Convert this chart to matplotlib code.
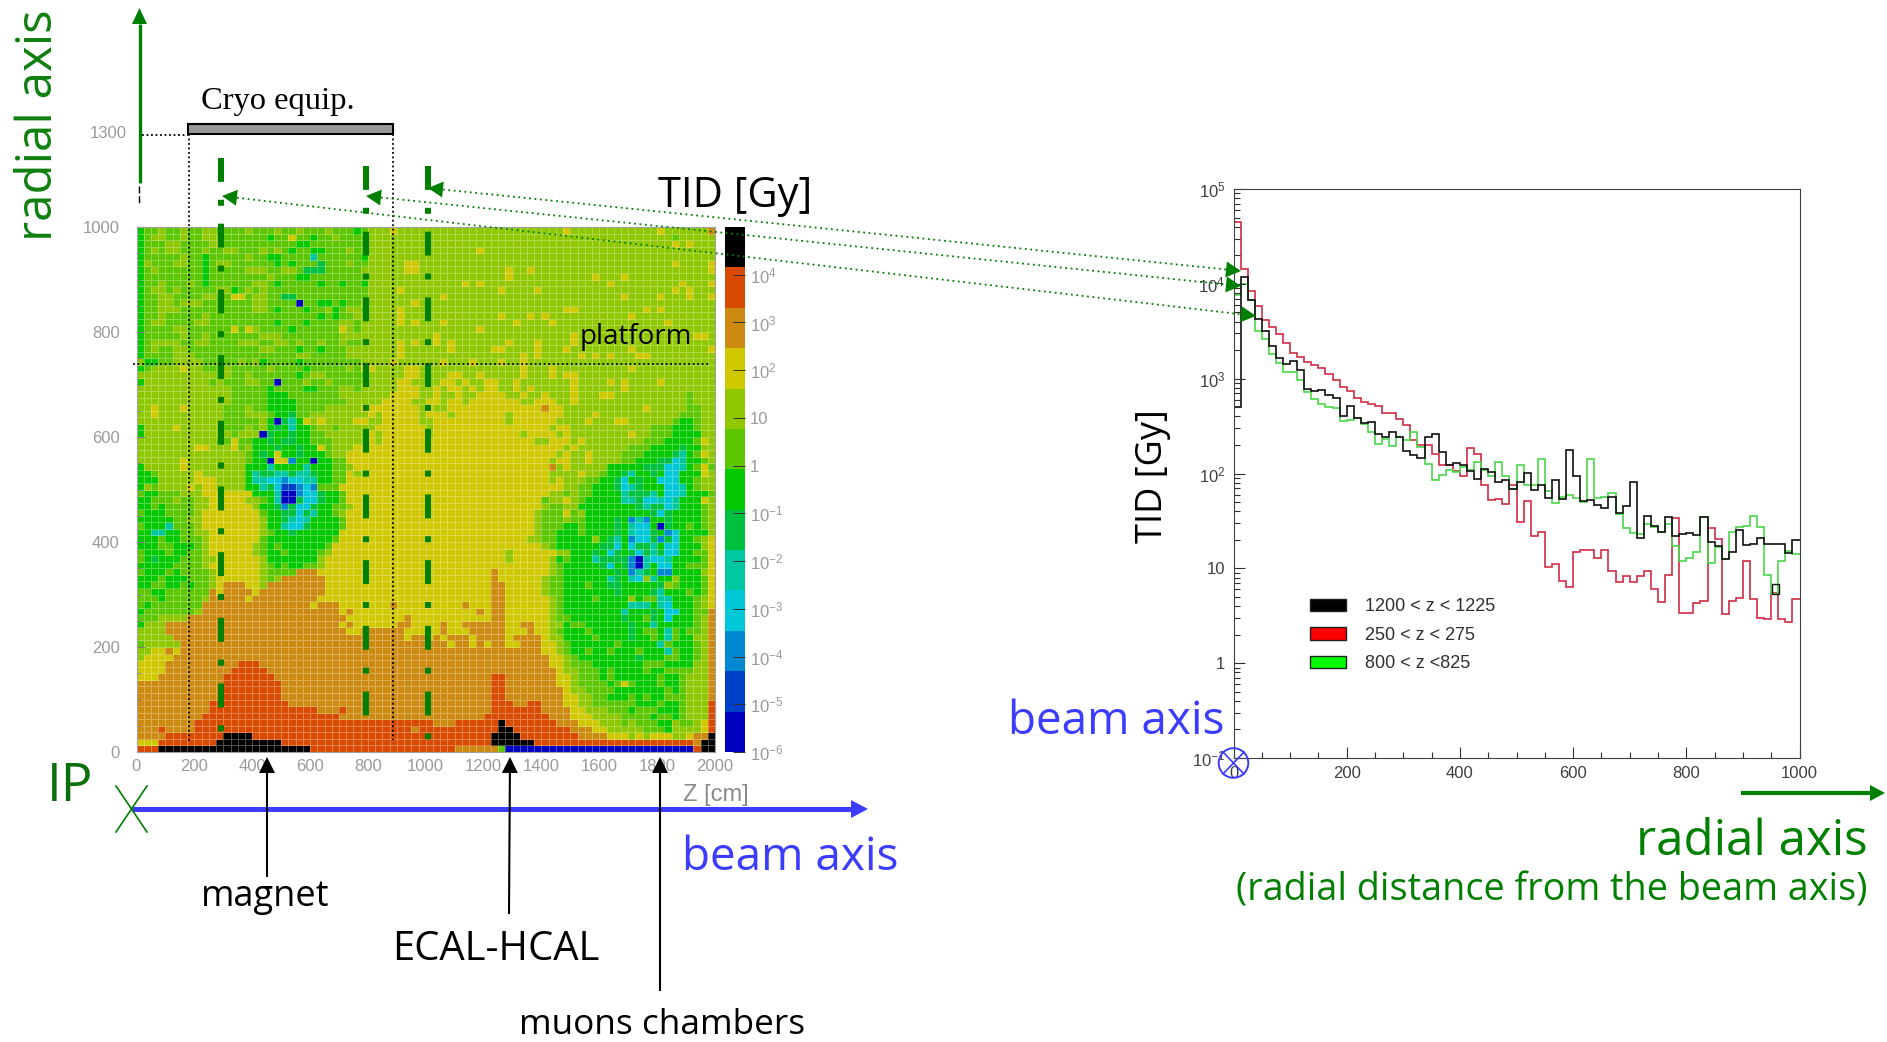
import numpy as np
import matplotlib
matplotlib.use("Agg")
import matplotlib.pyplot as plt
from matplotlib.colors import ListedColormap, BoundaryNorm
from matplotlib.patches import Patch, Polygon, Rectangle, Circle
from matplotlib.ticker import FixedLocator, FixedFormatter, NullFormatter

W, H = 1887, 1042
COMIC = "Open Sans"
GREEN = "#008000"
BLUE = "#3c3cff"
GREY = "#9a9a9a"

# TID colour levels, lowest to highest
level_codes = "DUACSTBGLYORK"
level_colors = ["#0000c0", "#0040c8", "#0088d0", "#00c8d8", "#00c8a0", "#00c040", "#04c800",
                "#5cc600", "#8fc800", "#d0c800", "#cc8a10", "#d84a00", "#000000"]
cbar_ticks = [1e-6, 1e-5, 1e-4, 1e-3, 1e-2, 1e-1, 1, 10, 1e2, 1e3, 1e4]
cbar_labels = [r"$\mathregular{10^{-6}}$", r"$\mathregular{10^{-5}}$", r"$\mathregular{10^{-4}}$",
               r"$\mathregular{10^{-3}}$", r"$\mathregular{10^{-2}}$", r"$\mathregular{10^{-1}}$",
               "1", "10", r"$\mathregular{10^{2}}$", r"$\mathregular{10^{3}}$", r"$\mathregular{10^{4}}$"]

# map cells, top row first, z = 0..1000 cm then z = 1000..2000 cm
map_left = [
    "BGGLGGLGGL LGGGGLGGGL GGLGGGLGGG BGLLLYLLLL",
    "BGLLGGLGGL LLGGGGGGBG GYGGBGGLGG GGLLLLLLLL",
    "BGGGLLGGGG LLGGGGGGGG GGBBGGGGGG GGLLLLLLLL",
    "BGLGLLGGGL GGLLGGGLGL GBGGBBGGGL GGLLLLLLLL",
    "BGGGGGLGGB GGGGGLGGBB GGGGSGGGGG GBLLLLLLLL",
    "BLGGGLLGGB GLLGGGGGGB GBGGGTGGGL GGLLLLLYYL",
    "BGLGGGGGGB GGGGGLLLGG LLGTTTGGGG GLLLLLLYYL",
    "BGGGGGGGGB GGGGGGGGLG GGBBGGGGGG GGLLLLLLLL",
    "BGGLGGGLGB GGGGGGLLGB GGGGGBGGBG GBLLLLLLLL",
    "BGLLGLGGGG GLLBGLGLGG GGGGGGGGGG GGLLLLYLLL",
    "BGGLLGGGGL LGGYYGLLGG TTGGGGGGGG GGLLLLLLLL",
    "BGGLLGLLLG GGGGGGLLGG GGDGGBBGBG GLLLLLLLYL",
    "BGGLLLGGGG GGGGGGLLGB GGGBGGLBGL LGLLLLYLLL",
    "BGGLGGGGGL GGGGGGGGGG GGGGGBGBGG LLLLLLYLLL",
    "BGLLGGGGLL GGGGGGGGGB GGGBGGGGLL GLLLLLYLYL",
    "BGGGGLLGGG GGGYGYLGGG GBGGGGGGYL GLLLLLLLLL",
    "BGGGGGLGGL GGGGGGGLLL GGGGGGGGLL LLLLLLLLLL",
    "BGLLLLGGLL GGGGLLLGGL LGLGGLGGLG GLLLLLYLYL",
    "BGLGGLLGGG GGGGGGGLLG GGBGGBGGGL LLLLLLYLLL",
    "BGGGGLLLGG GGGGGGGGGG GGLLGGGGGL LLLLLLYLLL",
    "LBBGGLLLLG GGGGLGLBGG GGBGGGGGGG GLLLLYLLLL",
    "BGLLLLYLLG GGLGGGGGLG GGGBGGGGGL GYYLLLLYYL",
    "LLLLLLLLLL LGLGGLGGGG GGBGLLGGGG GGLLLLLYYL",
    "BLLLLLLLLL GLGGGLLGGD GGGLGGLGGG GLLLLLYYLL",
    "LLLLLLLLLL LLLGGGGGBG GGGBBGGGLL GLLLLLYYYL",
    "LLLLLLLLLL LLLGGGGGBB BGGGGGGGLL LLLLLYYYYL",
    "LLLLLLLLLL LLLGGGGGBB BBGGGGGGGL LLLLYYYYLL",
    "LLYLLLYLLL LLGGGLGGBB BBGGGGLLLL LYYYYYYYYL",
    "LLYLLLLLLL LLGGGLLLGB BTGGLLLLLL LLYLYYYYYL",
    "LLLLLLLLLL LLGGGGGLBD TSBYLYLLLL YYLLYYYYYL",
    "BLLLLYLLLL LLGGGLGLBT BSBBGLLGLL LLLYYYYYYY",
    "BLLLLLLLLL LLLGLLLDTB BTBBGGLLLL LLYLYYYYYY",
    "LLLLLLLLLL LGGYGGBBTB TTBBGGGLLL LLYLYYYYYY",
    "LLLLLLLLYY LLLYGLBBBT BBTBBYGLLL YYYYYYYYYY",
    "LLLLLLLLLL LLLLLGBTBY BBTBBBGLLY YYYYYYYYYY",
    "LLLLLLYLLL LLLLLGBBDY YABBDBBGGY YYYYYYYYYY",
    "BLLLLLYLLL LLLLLBBBSB BBBSBBBGGL YYYYYYYYYY",
    "BBGLLLLLYL LLLLLBSTTS STSSTBBGGY LLYYYYYYYY",
    "BBBLLLLLYY YLLLLBSSCC ACCSSBBGGY YYYYYYYYYY",
    "BLGLLLLYLY YLLLLBBSTC UUACAGGGYY YYYYYYYYYY",
    "GBBGGGLLLY YYYYYYBBBS DDACCTBBGY YYYYYYYYYY",
    "BBGGGLGGLL YYYYYLLGBS DDTCCTBBGY YYYYYYYYYY",
    "BBGBGGGGLL YYYYYYLBBT ATCCTBBGGL YYYYYYYYYY",
    "GBBBGGGGLY YYYYYYYGBB TTCTSBBGLY YYYYYYYYYY",
    "BBBBBGGLLY YYYYYYYLBB TSCSBBBBGY YYYYYYYYYY",
    "GBBBSGGGLY YYYYYYYLBB SCCTBBBBGY YYYYYYYYYY",
    "BBSSBBGGLL YYYYYYYLGB BTBBBBBBYY YYYYYYYYYY",
    "BBBGBBGGGL YYYYYYYGBB BBBBBBBGYY YYYYYYYYYY",
    "BBBGGBBBGL YYYYYYLGBG BBBBBBGYYY YYYYYYYYYY",
    "GBBBGBBGGL YYYYYYLGBB GBBBBGLYYY YYYYYYYYYY",
    "GBTBBBGGGL LYYYYYYLBB BBBBBLYYYY YYYYYYYYYY",
    "BBBBBGGGGL YYYYYYYLGB GBBGGLYYYY YYYYYYYYYY",
    "GBBBGBGGGG LYYYYYYLGG GGOOOYYYYY YYYYYYYYYY",
    "BBBGBBBGGG LYYYYYYLGL OOOOOOYYYY YYYYYYYYYY",
    "BBGGBBGBGG LYOOOYYLOO OOOOOOYYYY YYYYYYYYYY",
    "GGBBGGGGGG OYOOOOYOOO OOOOOOYYYY YYYYYYYYYY",
    "GGGBGGGGGL OOOOOYOOOO OOOOOYYYYY YYYYYYYYYY",
    "GBGGGGGGGO OOOOOOOOOO OOOOYOOOYY YYYYYOYYYY",
    "BGGGGGGGLO OOOOOOOOOO OOOOOOOOYO YYYYYYYYYY",
    "GGGLLLLOOO OOOOOOOOOO OOOOOOOOOY YYYYYYYOYY",
    "BLLLOOOOOO OOOOOOOOOO OOOOOOOOYO YYYYYYOOYY",
    "LLLLOOOOOO OOOOOOOOOO OOOOOOOOOY YOOOOOOYYY",
    "LLLLLOOOOO OOOOOOOOOO OOOOOOOOOO OOOOOOOYOO",
    "GLLLLLOOOO",
    "LLYYOYOOOO",
    "LYYYYOOOOO",
    "YYYYOOOOOO OOOORRROOO",
    "YYYYOOOOOO OOORRRRROO",
    "YYYOOOOOOO OORRRRRRRO",
    "OOOOOOOOOO OORRRRRRRR O",
    "OOOOOOOOOO OORRRRRRRR O",
    "OOOOOOOOOO OORRRRRRRR O",
    "OOOOOOOOOO RRRRRRRRRR RO",
    "OOOOOOOOOO RRRRRRRRRR RRRRROOORO O",
    "OOOOOOOOOR RRRRRRRRRR RRRRRRRROO O",
    "OOOOOOOORR R",
    "OOOROOOORR RRRRRRRRRR RRRRRRRRRR RRRRRRRROR",
    "OOOORRRRRR RRKKKKRRRR R",
    "YYYRRRRRRR RKKKKKKKKK R",
    "RRRKKKKKKK KKKKKKKKKK KKKKRRRRRR R",
]
map_right = [
    "LLLLLLLLLL LLLLLLLLLY LLLLLLLLLL LLYLLLLLLO",
    "LLLLLLLLLL LLLLLLLLLL LLLLLLLLLL LLLLGLLLLL",
    "LLLLLLLLLL LLLLLLLLLL LLLLLLLLLL LLLLYLYLLL",
    "LLLLLLLYLL LLLLLLLLLL LLLLLLLLLL LLLLLLLLLL",
    "LLLLLLLLLL LLLLLLLLLL LLLLLLLLLL LLLLLLLLLL",
    "LLLLLLLLLL LLLLLLLLLL LLLLLLLLLL LLLLYLLLLY",
    "LLLLLLLLLL LYLLYLLLLL LLLLLLLLLL LLLLLLLLLY",
    "LLLLLLLLLL LYLLLLLLLL LLLYLLLYLL LLLLLLLLLL",
    "LLLLLYLYLL LLLLLLLLLL LLLLLYLLLL LLLLLYLLLY",
    "LLLLLLLLLL YLLLLYLLLL LLLLLLLLLL LLLLYLYLLL",
    "LLYLLLLLLL LLLLLLLLLL LLLLLLLYLL LLYLLLYLLY",
    "LLLLLLLLLL LLLLLLLLLL LLLLLLLLLL LLLLLLLLLL",
    "LLLLLLLLLL LLLLLLLLLY YLLLLLLLLL YLYLLLLLLL",
    "LLLLLLLLLL YLLLYLYLLL LLLLLLLLYL LLLLLLLLLL",
    "LLYLLLLLLL LLYLLLLYLL LLLLLLLLLL LLLYLLLLLL",
    "LLLLLLLYLL LLLLLLLLLL LLLLLLLLLL LLLLLLLLLL",
    "LYLLLLLLLL LLLLLLLLLL YLLLLLLLLL LLLLLLLYYL",
    "LYLYLLLLLL LYLLLYLLLL YLLLLLLLLL LLLLLLLLLL",
    "LLLYLLLLLY YLLLLYLLLY LLLLLLLLYL LLLLLLLLLY",
    "LLLLLLLLLL LLLYLYLLLL LYLYLYLLLY YLLLLLLLLL",
    "LLYLLLYLLL YLLYLLLLLL LLLLLLLLLL LLLLLLLLLL",
    "LLLLLLLLLL LLLYLLLYLL LLLLLLLLYL LLLLLLLLLL",
    "LLLYYLLYLL LLLYLLLYLY YLLLLLLLLL LLLLLLLLLL",
    "LLYYLYLLYY LLYLLLLLLL YLLLLYLYLL LLYLLLLLLL",
    "LYLYYLYLYY LLYLYLLLLL YLLLLLLYLL LLLLLLLLLL",
    "LYLLYLLYYY YLLYLLYLLL YLLLYYLLLL LLLLLLGLLL",
    "YYLYYLYYYY YYYLLYYYLL YLLLLLLLLL LLLLLLGLLL",
    "YLLYYYYYYY YYYYYYOYYL LLLLLLLLLL YLLLLLGGLL",
    "YYYLYYYYYY YLYYYYYYYL LLLYLLLLLL LLLLLGGGLL",
    "LYYYYYYYYY YLYYYYYYLL LLYLLLYYLL LLLLGBBGLL",
    "LYYYYYYYYY YYYYYYYLYY LLLLLLLLLL LGGGBBBGLL",
    "LYYYYYYYYY YYYLYYYYLY LLLLLLLLYL LGGGBBBBLL",
    "YYYYYYYYYY YYYYYLLYYY LYLLLLLLLL GGGBBBBGYL",
    "YYYYYYYYYY YYYYYYYYYL YLLLLLLLGG GBBBBTBBLL",
    "YYYYYYYYYY YYYYYYYYLY LLYLLLLGGG BBBBTSBGYL",
    "YYYYYYYYYY YYYYYYYLYY LLYLLLLGGB BBTTCSBBGL",
    "YYYYYYYYYY YYYYYYYOLY LLLLLBBBBB TTTCCSBGYG",
    "YYYYYYYYYY YYYYYYYLLL LYLLGBBTSB BTBCCBBBYL",
    "YYYYYYYYYY YYYYYYYLYL LLGGBBTCBT BBCCCBBGLL",
    "YYYYYYYYYY YYYYYYYYYL LGGBBBTCST BBBCCSBGLL",
    "YYYYYYYYYY YYYYYYYLLG LGGBBBBSTT TSBCCSBBBG",
    "YYYYYYYYYY YYYYYYGLLY LGBBBBBSST CCSCSBBBYL",
    "YYYYYYYYYY YYYYYYLGGL LBBBBBBBBT STTCSBBBGL",
    "YYYYYYYYYY YYYYYLGGGY GLBBBBBBBB BTCTBBBBGL",
    "YYYYYYYYYY YYYYYLGGGL GGBBBBTBAS ABBTBBBBGL",
    "YYYYYYYYYY YYYYYLGGGB BGBBBBTBSC CBDTBBGBGL",
    "YYYYYYYYYY YYYYYLGGBB BGBBBBTBSC CTBACBBBBL",
    "YYYYYYYYYY YYYYLLGGBB BBBLBTSBAC CTATCBBGLY",
    "YYYYYYYYYY YYYYYYLGBB BBBBTTCBCT TSBCCBBBLY",
    "YYYYYYYYYY YLYYYYYYLL BBBTBCTBTC TSTCCBBGGY",
    "YYYYYYYYYY YLYYYYYLBG BBBSTTTTAD SCCSBBBBGY",
    "YYYYYYYYYY YYYYYYYLGB BBBBTCBTAD SBCCBBGGGY",
    "YYYYYYYYYO YYYYYYYLGB BBBBBBTBAS TBAABBBBLY",
    "YYYYYYYYYO YYYYYYLGGB BBBBBSTBSC LSBBLBBBGY",
    "YYYYYYYYYO OYYYYYLGGB BBGBBTTBBB BBTLGBBBGY",
    "YYYYYYYYYO OYYYYYLGGB BBBBBBTBBB BTSBBBGBGY",
    "YYYYYYYYYO OYYYYYYLGB BBBGBBBBLB GGSSBBBGLY",
    "YYYYYOYYYO OYYYYYYLGB BBBBBBBBSS SBSCBBBGLY",
    "YYYYYYYOYO OYYYYYYLGB BBBBBBBSBB BTBCCBBGGO",
    "YYYYYYYYYO OYYYYYYLGG BBBBBBBTBB GTBCBBBGLO",
    "YYOYYOOOOO OYYOOYYLLB GGBBBBBBTB BSBBBBBGLO",
    "YYOYYYOOOO OYYYOYYLGB BBGBBBBBTB GGBSGBGGLO",
    "YOYOOOYOOO OYOOOOYLLB BBBGBBBBTB BGBSGBBLLO",
    "OOOYOOYOYO OYYOOOYYLG BBBBBBGBBB BBSGBBBGLO",
    "OOOOOOOOOO OOOOOOYYLG BBGBBGBBBG BBBSGBBGLO",
    "OOOOOOOOOO OOOOOOOYYL GBBBBBBBBT BBBGGBBGLO",
    "OOOOOOOOOO OOOOOOOYYL GGGBBBBBBB GGGBBBBLLO",
    "OOOOOOOOOO OOOOOOOOYL LGGGBGBBBB GBBGGGGLLO",
    "OOOOOOOOOR ROOOOOOOYY LGGGBGBBBB BBGBBGLLLO",
    "OOOOOOOOOR ROOOOOOOYY LGGGGBGYGB BBGBBGLLLO",
    "OOOOOOOOOR ROOOOOOOOY LLGGGGBBBB BBBGBGLLLO",
    "OOOOOOOOOR ROOOOOOOOY YLLGGBBBGB GBBGGGLLLO",
    "OOOOOOOOOR RROORROOOY YLLGGGGGGB BBGBBGLLLR",
    "OOOOOOOOOR RRRRRROOOO YYLLLGGGBG GGBBBGLLLR",
    "OOOOOOOORR RRRRRRROOO YYYLLLLGGG GBGGBGLLLR",
    "ROOORRRRRR KRRRRRRROO OYYYLLLGLG GGBBLGGLYR",
    "RRRRRRRRRR KKRRRRRRRR OOOYYLLLLL GGGBLLLLYR",
    "RRRRRRRRRK KKKRRRRRRR ROOOOYYYLY LYYYLLYOOK",
    "RRRRRRRRRK KKKKKRRRRR RRRRRRRRRR RRRRRRROKK",
    "RRRROOOOOO GDDDDDDDDD DDDDDDDDDD DDDDDDDRKK",
]

# histogram contents [Gy], 80 bins of 12.5 cm
tid_black = [503, 11800, 6700, 4300, 3200, 2200, 1670, 1420, 1520, 1220,
             783, 741, 765, 667, 630, 404, 511, 385, 343, 348,
             262, 242, 273, 240, 171, 155, 145, 245, 258, 168,
             123, 128, 124, 107, 88, 112, 103, 82, 86, 69,
             82, 101, 67, 76, 55, 86, 54, 175, 94, 51,
             53, 47, 43, 56, 38, 45, 81, 21, 36, 28,
             24, 35, 22, 23, 23.6, 22.7, 35, 18.8, 17, 12.6,
             15, 25.6, 17.6, 18, 20.8, 18, 18, 18, 14.5, 20]
tid_red = [45000, 14300, 8400, 5800, 4200, 3500, 2940, 2360, 1880, 1690,
           1500, 1380, 1310, 1110, 970, 816, 735, 630, 568, 540,
           514, 437, 437, 378, 321, 223, 198, 198, 161, 122,
           122, 106, 95, 188, 161, 75, 52, 54, 48, 75,
           31, 51, 22, 24, 10.4, 11, 7.4, 6.3, 15, 15.6,
           15.6, 12.9, 15.6, 9.4, 7.1, 8.4, 7.1, 8.4, 9.4, 6,
           4.45, 8.6, 34, 3.4, 3.35, 4.27, 4.55, 26.7, 20.4, 3.3,
           4.55, 4.87, 12, 4.8, 3, 2.9, 5.5, 2.9, 2.7, 4.7]
tid_green = [7600, 10000, 6700, 3200, 2650, 1800, 1470, 1180, 1180, 970,
             723, 615, 545, 503, 490, 354, 363, 385, 335, 273,
             206, 229, 193, 240, 223, 273, 190, 126, 86, 97,
             108, 103, 117, 108, 132, 108, 95, 132, 95, 69,
             122, 76, 75, 141, 66, 49, 56, 59, 55, 50,
             143, 55, 57, 62, 37.5, 26.5, 23.6, 23, 29, 27,
             24, 29, 17.3, 12, 13, 14.8, 34.6, 11.3, 16.7, 12.6,
             24, 27, 28, 36, 27, 8.6, 5.4, 12, 15.3, 14.2]
legend_labels = ["1200 < z < 1225", "250 < z < 275", "800 < z <825"]
legend_colors = ["#000000", "#ff0000", "#00ff00"]


def axes_px(left, top, right, bottom):
    return fig.add_axes([left / W, 1 - bottom / H, (right - left) / W, (bottom - top) / H])


def head(x0, y0, x1, y1, color, head_l, head_w):
    # filled triangle pointing from (x0, y0) to the tip (x1, y1)
    d = np.array([x1 - x0, y1 - y0], dtype=float)
    d /= np.hypot(*d)
    n = np.array([-d[1], d[0]])
    tip = np.array([x1, y1])
    base = tip - d * head_l
    ov.add_patch(Polygon([tip, base + n * head_w / 2, base - n * head_w / 2], fc=color, ec="none"))
    return base


def arrow(x0, y0, x1, y1, color, lw, head_l, head_w):
    base = head(x0, y0, x1, y1, color, head_l, head_w)
    ov.plot([x0, base[0]], [y0, base[1]], color=color, lw=lw, solid_capstyle="butt")


def rows_to_levels(left, right):
    grid = []
    for a, b in zip(left, right):
        a = a.replace(" ", "")
        b = b.replace(" ", "")
        a = a.ljust(40, a[-1])[:40]
        b = b.ljust(40, b[-1])[:40]
        grid.append([level_codes.index(c) for c in a + b])
    return np.array(grid[::-1])


plt.rcParams["font.family"] = "Liberation Sans"
fig = plt.figure(figsize=(W / 100, H / 100), dpi=100)

# dose map
levels = rows_to_levels(map_left, map_right)
cmap = ListedColormap(level_colors)
norm = BoundaryNorm(np.arange(-0.5, 13.5), 13)
ax_map = axes_px(136.5, 227, 715, 752)
ax_map.pcolormesh(np.arange(0, 2025, 25), np.arange(0, 1012.5, 12.5), levels, cmap=cmap, norm=norm,
                  edgecolors=(1, 1, 1, 0.3), linewidth=0.5)
ax_map.set_xlim(0, 2000)
ax_map.set_ylim(0, 1000)
ax_map.set_xticks(np.arange(0, 2200, 200))
ax_map.set_yticks(np.arange(0, 1200, 200))
ax_map.set_yticks(np.arange(0, 1050, 50), minor=True)
ax_map.tick_params(axis="x", length=0, pad=5, labelsize=12, labelcolor=GREY)
ax_map.tick_params(axis="y", direction="in", length=6, color="#808080", pad=12, labelsize=12, labelcolor=GREY)
ax_map.tick_params(axis="y", which="minor", direction="in", length=3, color="#808080")
for s in ax_map.spines.values():
    s.set_color("#a0a0a0")

# colour scale
ax_cb = axes_px(725, 227, 744.5, 752)
ax_cb.pcolormesh([0, 1], np.arange(14), np.arange(13).reshape(13, 1), cmap=cmap, norm=norm)
ax_cb.set_xticks([])
ax_cb.set_yticks([])
for s in ax_cb.spines.values():
    s.set_visible(False)
ax_cb2 = ax_cb.twinx()
ax_cb2.set_yscale("log")
ax_cb2.set_ylim(1e-6, 1e5)
ax_cb2.yaxis.set_major_locator(FixedLocator(cbar_ticks))
ax_cb2.yaxis.set_major_formatter(FixedFormatter(cbar_labels))
ax_cb2.yaxis.set_minor_formatter(NullFormatter())
ax_cb2.tick_params(axis="y", direction="in", length=9, width=0.7, color="#303030", pad=4, labelsize=12, labelcolor=GREY)
ax_cb2.tick_params(axis="y", which="minor", direction="in", length=5, width=0.5, color="#303030")
for s in ax_cb2.spines.values():
    s.set_visible(False)

# TID profiles
ax_h = axes_px(1233.5, 189, 1799.5, 758)
edges = np.arange(0, 1012.5, 12.5)
ax_h.stairs(tid_red, edges, baseline=None, color="#d02c44", lw=1.2)
ax_h.stairs(tid_green, edges, baseline=None, color="#4ad84a", lw=1.2)
ax_h.stairs(tid_black, edges, baseline=None, color="#101010", lw=1.2)
ax_h.set_yscale("log")
ax_h.set_xlim(0, 1000)
ax_h.set_ylim(0.1, 1e5)
ax_h.set_xticks(np.arange(0, 1200, 200))
ax_h.set_xticks(np.arange(0, 1050, 50), minor=True)
ax_h.set_yticks([0.1, 1, 10, 100, 1000, 1e4, 1e5])
ax_h.set_yticklabels([r"$\mathregular{10^{-1}}$", "1", "10", r"$\mathregular{10^{2}}$", r"$\mathregular{10^{3}}$",
                      r"$\mathregular{10^{4}}$", r"$\mathregular{10^{5}}$"])
ax_h.yaxis.set_minor_formatter(NullFormatter())
ax_h.tick_params(axis="both", direction="in", length=8, width=0.8, color="#303030", labelsize=12, labelcolor="#404040", pad=6)
ax_h.tick_params(axis="both", which="minor", direction="in", length=4, width=0.8, color="#303030")
for s in ax_h.spines.values():
    s.set_color("#404040")
handles = [Patch(fc=c, ec="#202020", label=l) for c, l in zip(legend_colors, legend_labels)]
ax_h.legend(handles=handles, loc="upper left", bbox_to_anchor=(76.5 / 566, (758 - 598) / 569), frameon=False,
            fontsize=13, handlelength=2.0, handleheight=0.67, handletextpad=1.05, labelspacing=0.65,
            labelcolor="#303030", borderpad=0, borderaxespad=0)

# everything drawn on top of the charts, in image pixels
ov = fig.add_axes([0, 0, 1, 1], facecolor="none")
ov.set_xlim(0, W)
ov.set_ylim(H, 0)
ov.axis("off")

for x, top, bottom in [(221, 158, 735), (366, 166, 718), (428, 166, 743)]:
    ov.plot([x, x], [top, bottom], color=GREEN, lw=4.3, ls=(0, (4, 3, 1, 3)), dash_capstyle="butt")

dot = dict(color="black", lw=1.3, ls=(0, (1, 1.5)))
ov.plot([133, 710], [364, 364], **dot)
ov.plot([189, 189], [134, 743], **dot)
ov.plot([392.5, 392.5], [134, 740], **dot)
ov.plot([142, 188], [134.5, 134.5], **dot)
ov.add_patch(Rectangle((188, 124), 205, 10, fc="#999999", ec="black", lw=1.5))
ov.text(278, 101, "Cryo equip.", family="Liberation Serif", fontsize=23.4, ha="center", va="center")
ov.text(108, 134, "1300", fontsize=12, color=GREY, ha="center", va="center")

arrow(139.5, 183, 139.5, 8, GREEN, 2.4, 16, 15)
ov.plot([138.5, 138.5], [186, 205], color="black", lw=1, ls=(0, (5, 2)))
ov.text(39, 125, "radial axis", family=COMIC, fontsize=35.5, color="#108010", rotation=90, ha="center", va="center")
ov.text(735, 196, "TID [Gy]", family=COMIC, fontsize=30, ha="center", va="center")
ov.text(636, 337, "platform", family=COMIC, fontsize=20, ha="center", va="center")

arrow(132, 809, 868, 809, BLUE, 3.6, 17, 18)
ov.plot([116, 147], [786, 832], color=GREEN, lw=1.2)
ov.plot([147, 116], [786, 832], color=GREEN, lw=1.2)
ov.text(70, 787, "IP", family=COMIC, fontsize=38, color="#0a6e0a", ha="center", va="center")
ov.text(716, 795, "Z [cm]", fontsize=17, color="#8a8a8a", ha="center", va="center")
ov.text(790, 858, "beam axis", family=COMIC, fontsize=33, color=BLUE, ha="center", va="center")

arrow(267, 877, 267, 757, "black", 1.5, 16, 16)
arrow(509, 914, 510, 757, "black", 1.5, 16, 16)
arrow(660, 991, 660, 757, "black", 1.5, 16, 16)
ov.text(265, 897, "magnet", family=COMIC, fontsize=26, ha="center", va="center")
ov.text(496, 950, "ECAL-HCAL", family=COMIC, fontsize=28.8, ha="center", va="center")
ov.text(662, 1025, "muons chambers", family=COMIC, fontsize=25.3, ha="center", va="center")

# dotted links between the two charts
for xa, ya, xb, yb in [(222, 196, 1256, 316), (366, 196, 1241, 286), (428, 188, 1241, 271)]:
    b1 = head(xb, yb, xa, ya, GREEN, 15, 16)
    b2 = head(xa, ya, xb, yb, GREEN, 15, 16)
    ov.plot([b1[0], b2[0]], [b1[1], b2[1]], color=GREEN, lw=1.3, ls=(0, (1, 2)))

ov.add_patch(Circle((1233.5, 763), 14.8, fc="none", ec=BLUE, lw=1.4))
ov.plot([1223, 1244], [752, 774], color=BLUE, lw=1.2)
ov.plot([1244, 1223], [752, 774], color=BLUE, lw=1.2)
ov.text(1116, 722, "beam axis", family=COMIC, fontsize=33, color=BLUE, ha="center", va="center")
arrow(1741, 793, 1885, 793, GREEN, 3, 15, 16)
ov.text(1752, 842, "radial axis", family=COMIC, fontsize=35.5, color=GREEN, ha="center", va="center")
ov.text(1552, 890, "(radial distance from the beam axis)", family=COMIC, fontsize=27.2, color=GREEN, ha="center", va="center")
ov.text(1153, 476, "TID [Gy]", family=COMIC, fontsize=26, rotation=90, ha="center", va="center")
# small box left at r = 950 cm by the original histogram overlay
ov.add_patch(Rectangle((1772, 584), 6.5, 10, fc="none", ec="#101010", lw=1))

fig.savefig("out.png", dpi=100)
